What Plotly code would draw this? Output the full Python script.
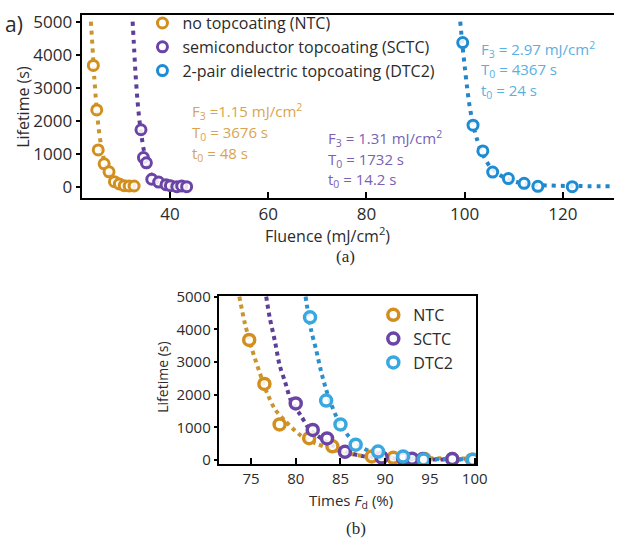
import plotly.graph_objects as go

W, H = 625, 548

# ---------------- data: panel (a) ----------------
ntc_F = [24.4, 25.1, 25.4, 26.6, 27.6, 28.7, 29.7, 30.7, 31.7, 32.7]
ntc_T = [3676, 2330, 1120, 700, 460, 160, 90, 40, 30, 30]
sctc_F = [34.1, 34.6, 35.2, 36.3, 37.7, 39.2, 40.1, 41.4, 42.4, 43.4]
sctc_T = [1732, 890, 730, 235, 150, 70, 40, 10, 30, 10]
dtc_F = [99.6, 101.7, 103.7, 105.7, 108.9, 112.1, 114.9, 121.9]
dtc_T = [4367, 1870, 1090, 450, 255, 110, 20, 10]

ntc_fitF = [23.9, 24.2, 24.6, 25.0, 25.5, 26.1, 26.8, 27.6, 28.6, 30.0, 31.5, 33.4]
ntc_fitT = [5000, 4300, 3300, 2500, 1750, 1150, 700, 430, 230, 110, 60, 50]
sctc_fitF = [32.4, 32.7, 33.0, 33.4, 33.8, 34.2, 34.7, 35.3, 36.0, 37.0, 38.5, 40.5, 44.0]
sctc_fitT = [5000, 4200, 3400, 2600, 2000, 1550, 1100, 700, 420, 200, 80, 30, 15]
dtc_fitF = [99.1, 99.5, 100.0, 100.5, 101.0, 101.7, 102.5, 103.5, 104.5, 105.5, 107.5, 110.5, 115.0, 122.0, 129.5]
dtc_fitT = [5000, 4350, 3650, 3000, 2450, 1900, 1450, 1050, 760, 560, 330, 150, 60, 30, 25]

# ---------------- data: panel (b) ----------------
ntc_P = [74.8, 76.5, 78.2, 81.5, 84.1, 88.5, 90.9, 94.4, 97.5, 99.7]
ntc_L = [3676, 2330, 1090, 670, 420, 110, 70, 30, 30, 10]
sctc_P = [80.0, 81.9, 83.5, 85.5, 89.6, 92.0, 93.0, 94.2, 97.5]
sctc_L = [1732, 920, 660, 250, 80, 50, 40, 30, 30]
dtc_P = [81.6, 83.4, 85.0, 86.7, 89.2, 92.0, 94.3, 99.8]
dtc_L = [4367, 1821, 1090, 470, 260, 110, 20, 10]

ntc_fitP = [73.7, 74.3, 75.1, 76.0, 76.8, 77.7, 78.8, 80.6, 82.3, 84.7, 86.9, 90.0, 95.0, 100.0]
ntc_fitL = [5000, 4200, 3400, 2650, 2050, 1550, 1200, 740, 500, 280, 150, 80, 55, 50]
sctc_fitP = [76.7, 77.1, 77.7, 78.2, 78.8, 79.5, 80.6, 81.5, 82.5, 83.9, 85.5, 87.5, 90.0, 95.0, 100.0]
sctc_fitL = [5000, 4350, 3600, 2900, 2400, 1800, 1350, 950, 730, 480, 260, 120, 60, 20, 15]
dtc_fitP = [81.1, 81.7, 82.3, 82.8, 83.4, 83.9, 84.6, 85.7, 86.6, 87.6, 89.0, 90.1, 92.0, 95.0, 100.0]
dtc_fitL = [5000, 4000, 3350, 2750, 2150, 1750, 1300, 800, 530, 350, 200, 130, 70, 35, 25]

names_a = ["no topcoating (NTC)", "semiconductor topcoating (SCTC)", "2-pair dielectric topcoating (DTC2)"]
names_b = ["NTC", "SCTC", "DTC2"]

C_ORANGE = "#D38F1D"
C_PURPLE = "#6B45A6"
C_BLUE_A = "#1E8CD3"
C_BLUE_B = "#3AA8E0"
FIT_ORANGE = "#C99531"
FIT_PURPLE = "#5D3E98"
FIT_BLUE_A = "#2585C6"
FIT_BLUE_B = "#2A90CF"

FONT = "Open Sans"
TXT = "#2b2b2b"


def px(xp):
    return xp / W


def py(yp):
    return 1 - yp / H


fig = go.Figure()

# panel (a) fit lines
for fx, fy, col in [(ntc_fitF, ntc_fitT, FIT_ORANGE), (sctc_fitF, sctc_fitT, FIT_PURPLE), (dtc_fitF, dtc_fitT, FIT_BLUE_A)]:
    fig.add_trace(go.Scatter(x=fx, y=fy, mode="lines", line=dict(color=col, width=4, dash="4px,5px", shape="spline", smoothing=0.8),
                             showlegend=False, hoverinfo="skip", xaxis="x", yaxis="y"))
# panel (a) data
for xs, ys, col, nm in [(ntc_F, ntc_T, C_ORANGE, names_a[0]), (sctc_F, sctc_T, C_PURPLE, names_a[1]), (dtc_F, dtc_T, C_BLUE_A, names_a[2])]:
    fig.add_trace(go.Scatter(x=xs, y=ys, mode="markers", name=nm,
                             marker=dict(symbol="circle", size=10, color="rgba(255,255,255,0.85)", line=dict(color=col, width=3)),
                             xaxis="x", yaxis="y", legend="legend"))

# panel (b) fit lines
for fx, fy, col in [(ntc_fitP, ntc_fitL, FIT_ORANGE), (sctc_fitP, sctc_fitL, FIT_PURPLE), (dtc_fitP, dtc_fitL, FIT_BLUE_B)]:
    fig.add_trace(go.Scatter(x=fx, y=fy, mode="lines", line=dict(color=col, width=4, dash="4px,4px", shape="spline", smoothing=0.8),
                             showlegend=False, hoverinfo="skip", xaxis="x2", yaxis="y2"))
# panel (b) data
for xs, ys, col, nm in [(ntc_P, ntc_L, C_ORANGE, names_b[0]), (sctc_P, sctc_L, C_PURPLE, names_b[1]), (dtc_P, dtc_L, C_BLUE_B, names_b[2])]:
    fig.add_trace(go.Scatter(x=xs, y=ys, mode="markers", name=nm,
                             marker=dict(symbol="circle", size=11, color="rgba(255,255,255,0.85)", line=dict(color=col, width=3.5)),
                             xaxis="x2", yaxis="y2", legend="legend2"))

axis_common = dict(showgrid=False, zeroline=False, showline=True, linecolor="black", linewidth=2,
                   tickcolor="black", tickwidth=2, tickfont=dict(family=FONT, size=15, color=TXT), mirror=True)

fig.update_layout(
    width=W, height=H,
    margin=dict(l=0, r=0, t=0, b=0),
    paper_bgcolor="white", plot_bgcolor="white",
    font=dict(family=FONT, color=TXT),
    xaxis=dict(axis_common, domain=[px(83), 1.0], range=[22, 130.4], tickvals=[40, 60, 80, 100, 120],
               ticks="inside", ticklen=6, anchor="y", tickfont=dict(family=FONT, size=17, color=TXT)),
    yaxis=dict(axis_common, domain=[py(193), py(5)], range=[-324, 5205], tickvals=[0, 1000, 2000, 3000, 4000, 5000],
               ticks="outside", ticklen=4, anchor="x", mirror=False, tickfont=dict(family=FONT, size=17, color=TXT)),
    xaxis2=dict(axis_common, domain=[px(222.7), px(485)], range=[71.4, 100.2], tickvals=[75, 80, 85, 90, 95, 100],
                ticks="inside", ticklen=6, anchor="y2"),
    yaxis2=dict(axis_common, domain=[py(466.7), py(294)], range=[-119, 5021], tickvals=[0, 1000, 2000, 3000, 4000, 5000],
                ticks="outside", ticklen=3, anchor="x2"),
    legend=dict(x=px(145), y=py(-4), xanchor="left", yanchor="top", bgcolor="rgba(0,0,0,0)",
                font=dict(family=FONT, size=16, color=TXT), tracegroupgap=0, itemwidth=30),
    legend2=dict(x=px(380), y=py(296), xanchor="left", yanchor="top", bgcolor="rgba(0,0,0,0)",
                 font=dict(family=FONT, size=16, color=TXT), tracegroupgap=0, itemwidth=30),
    showlegend=True,
)

ann = []


def add_text(x, y, text, size, color=TXT, family=FONT, xanchor="left", textangle=0):
    ann.append(dict(x=px(x), y=py(y), xref="paper", yref="paper", text=text, showarrow=False,
                    xanchor=xanchor, yanchor="middle", textangle=textangle,
                    font=dict(family=family, size=size, color=color)))


# panel labels and axis titles
add_text(3, 14, "a)", 21)
add_text(24, 100, "Lifetime (s)", 16, xanchor="center", textangle=-90)
add_text(333, 231, "Fluence (mJ/cm<sup>2</sup>)", 16, xanchor="center")
add_text(352, 253, "(a)", 17, family="Liberation Serif", xanchor="center")
add_text(166, 378, "Lifetime (s)", 14, xanchor="center", textangle=-90)
add_text(357, 505, "Times <i>F</i><sub>d</sub> (%)", 15, xanchor="center")
add_text(362, 533, "(b)", 17, family="Liberation Serif", xanchor="center")

# fit parameter annotations
T_OR = "#D9A450"
T_PU = "#7B5FB3"
T_BL = "#5AB0E0"
add_text(193, 104, "F<sub>3</sub> =1.15 mJ/cm<sup>2</sup>", 15, T_OR)
add_text(193, 126, "T<sub>0</sub> = 3676 s", 15, T_OR)
add_text(193, 148, "t<sub>0</sub> = 48 s", 15, T_OR)
add_text(332, 132, "F<sub>3</sub> = 1.31 mJ/cm<sup>2</sup>", 15, T_PU)
add_text(332, 154, "T<sub>0</sub> = 1732 s", 15, T_PU)
add_text(332, 175, "t<sub>0</sub> = 14.2 s", 15, T_PU)
add_text(488, 41, "F<sub>3</sub> = 2.97 mJ/cm<sup>2</sup>", 15, T_BL)
add_text(488, 62, "T<sub>0</sub> = 4367 s", 15, T_BL)
add_text(488, 83, "t<sub>0</sub> = 24 s", 15, T_BL)

fig.update_layout(annotations=ann)

fig.write_html("out.html")
